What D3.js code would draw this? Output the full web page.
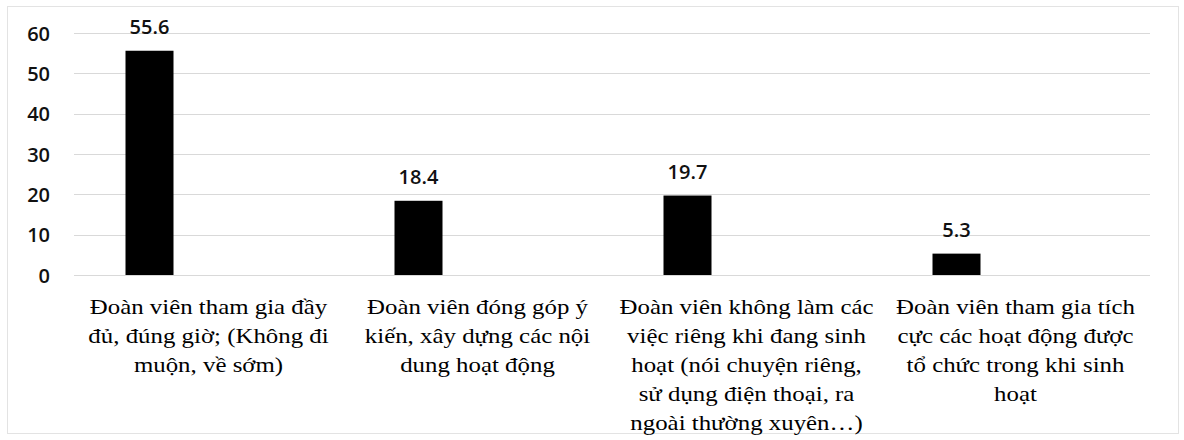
<!DOCTYPE html>
<html>
<head>
<meta charset="utf-8">
<script src="https://cdn.jsdelivr.net/npm/d3@7"></script>
<style>
  html, body { margin: 0; padding: 0; background: #fff; }
  svg { display: block; }
  .cat { font-family: "Liberation Serif", Tinos, "Times New Roman", serif; font-size: 22px; }
  .num { font-family: "Open Sans", sans-serif; font-size: 20px; font-weight: 600; }
</style>
</head>
<body>
<div id="chart"></div>
<script>
// ---- data ----
const categories = ["c1", "c2", "c3", "c4"];
const categoryLabels = [
  ["Đoàn viên tham gia đầy", "đủ, đúng giờ; (Không đi", "muộn, về sớm)"],
  ["Đoàn viên đóng góp ý", "kiến, xây dựng các nội", "dung hoạt động"],
  ["Đoàn viên không làm các", "việc riêng khi đang sinh", "hoạt (nói chuyện riêng,", "sử dụng điện thoại, ra", "ngoài thường xuyên…)"],
  ["Đoàn viên tham gia tích", "cực các hoạt động được", "tổ chức trong khi sinh", "hoạt"]
];
const values = [55.6, 18.4, 19.7, 5.3];
const yTicks = [0, 10, 20, 30, 40, 50, 60];

// ---- layout ----
const W = 1184, H = 440;
const plot = { left: 74, right: 1150, top: 33, bottom: 275 };
const barWidth = 48;
const barShift = -59;   // bar sits left of the category centre
const labelStretch = 1.13;

const svg = d3.select("#chart").append("svg")
  .attr("width", W).attr("height", H);

// outer frame
svg.append("rect")
  .attr("x", 7.5).attr("y", 6.5)
  .attr("width", 1171).attr("height", 427)
  .attr("fill", "#fff")
  .attr("stroke", "#e3e3e3").attr("stroke-width", 1);

const x = d3.scaleBand().domain(categories).range([plot.left, plot.right]).padding(0);
const y = d3.scaleLinear().domain([0, 60]).range([plot.bottom, plot.top]);

// gridlines
svg.append("g").selectAll("line").data(yTicks).join("line")
  .attr("x1", plot.left).attr("x2", plot.right)
  .attr("y1", d => Math.round(y(d)) + 0.5).attr("y2", d => Math.round(y(d)) + 0.5)
  .attr("stroke", "#d9d9d9").attr("stroke-width", 1);

// y axis labels
const yAxis = d3.axisLeft(y).tickValues(yTicks).tickSize(0).tickPadding(0);
const gy = svg.append("g").attr("transform", `translate(50,0)`).call(yAxis);
gy.select(".domain").remove();
gy.attr("font-family", null).attr("font-size", null);
gy.selectAll("text")
  .attr("class", "num")
  .attr("fill", "#111").attr("dy", "0.36em");

// bars
const barX = d => x(d) + x.bandwidth() / 2 + barShift - barWidth / 2;
svg.append("g").selectAll("rect").data(categories).join("rect")
  .attr("x", barX)
  .attr("y", (d, i) => y(values[i]))
  .attr("width", barWidth)
  .attr("height", (d, i) => y(0) - y(values[i]))
  .attr("fill", "#000");

// value labels
svg.append("g").selectAll("text").data(categories).join("text")
  .attr("class", "num")
  .attr("x", d => x(d) + x.bandwidth() / 2 + barShift)
  .attr("y", (d, i) => y(values[i]) - 17)
  .attr("text-anchor", "middle")
  .attr("fill", "#111")
  .text((d, i) => values[i].toFixed(1));

// category labels (slightly widened, as in the reference)
const lab = svg.append("g").selectAll("text").data(categories).join("text")
  .attr("class", "cat")
  .attr("transform", d => `translate(${x(d) + x.bandwidth() / 2},314) scale(${labelStretch},1)`)
  .attr("text-anchor", "middle")
  .attr("fill", "#000");
lab.selectAll("tspan").data((d, i) => categoryLabels[i]).join("tspan")
  .attr("x", 0)
  .attr("dy", (d, i) => i === 0 ? 0 : 29)
  .text(d => d);
</script>
</body>
</html>
